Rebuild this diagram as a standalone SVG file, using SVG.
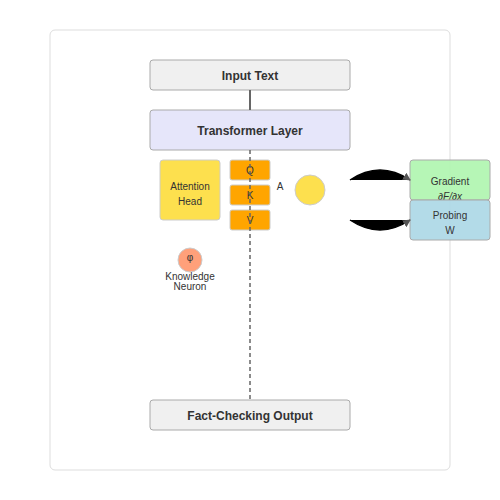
<svg xmlns="http://www.w3.org/2000/svg" width="500" height="500" viewBox="0 0 500 500">
<style>
.frame{fill:#fff;stroke:#ddd;stroke-width:1}
.box{stroke:#aaa;stroke-width:1}
.t{font-family:"Liberation Sans",Arial,sans-serif;fill:#333;text-anchor:middle}
.b{font-size:12px;font-weight:bold}
.s{font-size:10px}
.conn{stroke:#666;stroke-width:2;fill:none}
.dash{stroke:#666;stroke-width:1.5;stroke-dasharray:4,3;fill:none}
.curve{fill:#000;stroke:#000;stroke-width:1.5}
</style>
<defs>
<marker id="arr" markerWidth="8" markerHeight="8" refX="7" refY="4" orient="auto" markerUnits="userSpaceOnUse">
<path d="M0,0 L8,4 L0,8 Z" fill="#555"/>
</marker>
</defs>
<rect class="frame" x="50" y="30" width="400" height="440" rx="5"/>
<g id="input-text">
<rect class="box" x="150" y="60" width="200" height="30" rx="3" fill="#f0f0f0"/>
<text class="t b" x="250" y="80">Input Text</text>
</g>
<g id="transformer-layer">
<rect class="box" x="150" y="110" width="200" height="40" rx="3" fill="#e6e6fa"/>
<text class="t b" x="250" y="135">Transformer Layer</text>
</g>
<g id="attention-head">
<rect x="160" y="160" width="60" height="60" rx="3" fill="#fde04e" stroke="#ccc"/>
<text class="t s" x="190" y="190">Attention</text>
<text class="t s" x="190" y="205">Head</text>
</g>
<g id="q">
<rect x="230" y="160" width="40" height="20" rx="2" fill="#ffa500" stroke="#ccc"/>
<text class="t s" x="250" y="174">Q</text>
</g>
<g id="k">
<rect x="230" y="185" width="40" height="20" rx="2" fill="#ffa500" stroke="#ccc"/>
<text class="t s" x="250" y="199">K</text>
</g>
<g id="v">
<rect x="230" y="210" width="40" height="20" rx="2" fill="#ffa500" stroke="#ccc"/>
<text class="t s" x="250" y="224">V</text>
</g>
<g id="a">
<text class="t s" x="280" y="190">A</text>
<circle cx="310" cy="190" r="15" fill="#fde04e" stroke="#ccc"/>
</g>
<g id="knowledge-neuron">
<circle cx="190" cy="260" r="12" fill="#ffa07a" stroke="#ccc"/>
<text class="t s" x="190" y="261">φ</text>
<text class="t s" x="190" y="280">Knowledge</text>
<text class="t s" x="190" y="290">Neuron</text>
</g>
<g id="gradient">
<rect x="410" y="160" width="80" height="40" rx="3" fill="#b0f5b0" stroke="#aaa" fill-opacity="0.92"/>
<text class="t s" x="450" y="185">Gradient</text>
<text class="t s" x="450" y="200" font-style="italic">∂F/∂x</text>
</g>
<g id="probing">
<rect x="410" y="200" width="80" height="40" rx="3" fill="#add8e6" stroke="#aaa" fill-opacity="0.92"/>
<text class="t s" x="450" y="219">Probing</text>
<text class="t s" x="450" y="234">W</text>
</g>
<g id="fact-checking-output">
<rect class="box" x="150" y="400" width="200" height="30" rx="3" fill="#f0f0f0"/>
<text class="t b" x="250" y="420">Fact-Checking Output</text>
</g>
<g id="connectors">
<line class="conn" x1="250" y1="90" x2="250" y2="110"/>
<line class="dash" x1="250" y1="150" x2="250" y2="400"/>
<path class="curve" d="M350,180 Q380,160 410,180" marker-end="url(#arr)"/>
<path class="curve" d="M350,220 Q380,240 410,220" marker-end="url(#arr)"/>
</g>
</svg>
